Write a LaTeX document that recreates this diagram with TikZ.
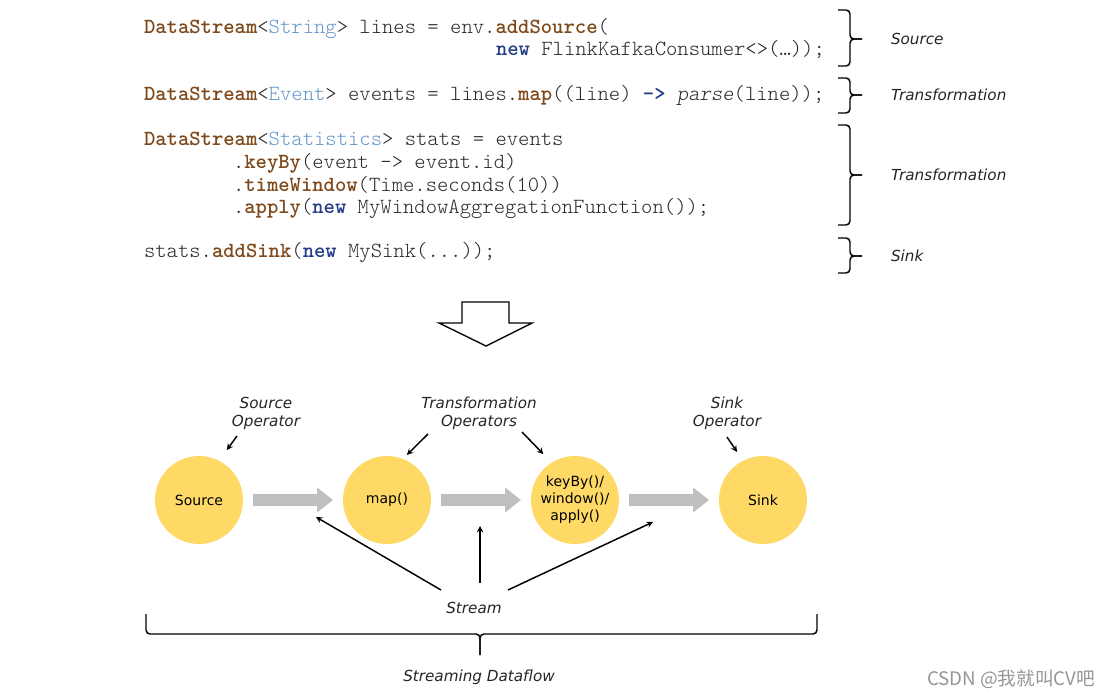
\documentclass[tikz,border=0pt]{standalone}
\usepackage{fontspec}
\usepackage{tikz}
\usetikzlibrary{positioning}
\usetikzlibrary{arrows}
\usetikzlibrary{arrows.meta}
\setmainfont{DejaVu Sans}
\newfontfamily\codefont{Latin Modern Mono Light}
\newfontfamily\cjkfont{Noto Sans CJK SC}
\definecolor{opyellow}{RGB}{255,217,102}
\definecolor{flowgray}{RGB}{191,191,191}
\definecolor{kwbrown}{RGB}{127,72,25}
\definecolor{typeblue}{RGB}{100,150,200}
\definecolor{newblue}{RGB}{35,60,135}
\definecolor{codegray}{RGB}{40,40,40}
\definecolor{markgray}{RGB}{150,150,150}
\newcommand{\kw}[1]{\textcolor{kwbrown}{\textbf{#1}}}
\newcommand{\ty}[1]{\textcolor{typeblue}{#1}}
\newcommand{\nw}[1]{\textcolor{newblue}{\textbf{#1}}}

\begin{document}
\begin{tikzpicture}[
              x = 0.75pt, % one pixel of the reference
              y = -0.75pt,
              > = stealth, % arrow head style
  node distance = 141pt, % distance between operators
              semithick % line style
        ]

        \tikzstyle{every node}=[inner sep=0pt, outer sep=0pt]
        \tikzstyle{code}=[anchor=base west, text=codegray, font=\codefont\fontsize{16.2pt}{19pt}\selectfont]
        \tikzstyle{note}=[text=black!85, align=center, font=\itshape\fontsize{11.4pt}{13.5pt}\selectfont]
        \tikzstyle{operator}=[circle, fill=opyellow, minimum size=66pt, align=center, font=\fontsize{10.5pt}{12.75pt}\selectfont]
        \tikzstyle{flow}=[color=flowgray, line width=9pt, -{Triangle[length=12pt,width=18pt]}, shorten <=7.5pt, shorten >=7.5pt]
        \tikzstyle{pointer}=[->, line width=1.1pt]
        \tikzstyle{curly}=[line width=1.1pt, rounded corners=3pt]

        \useasboundingbox[fill=white] (0,0) rectangle (1113,697);

	% program text
        \node[code] (srcA) at (144,33) {\kw{DataStream}<\ty{String}> lines = env.\kw{addSource}(};
        \node[code] (srcB) at (496,55) {\nw{new} FlinkKafkaConsumer<>(…));};
        \node[code] (mapA) at (144,100) {\kw{DataStream}<\ty{Event}> events = lines.\kw{map}((line) \nw{->} \textit{parse}(line));};
        \node[code] (winA) at (144,145) {\kw{DataStream}<\ty{Statistics}> stats = events};
        \node[code] (winB) at (233,168) {.\kw{keyBy}(event -> event.id)};
        \node[code] (winC) at (233,191) {.\kw{timeWindow}(Time.seconds(10))};
        \node[code] (winD) at (233,213) {.\kw{apply}(\nw{new} MyWindowAggregationFunction());};
        \node[code] (sinkA) at (144,257) {stats.\kw{addSink}(\nw{new} MySink(...));};

        % braces and stage names
        \foreach \top/\mid/\bot in {10/39/66, 78/95/113, 125/175/225, 238/256/273}{
          \draw[curly] (838,\top) -| (850,\mid) -- (862,\mid);
          \draw[curly] (838,\bot) -| (850,\mid) -- (862,\mid);
        }
        \node[note, anchor=west] (srcnote) at (891,39) {Source};
        \node[note, anchor=west] (mapnote) at (891,95) {Transformation};
        \node[note, anchor=west] (winnote) at (891,175) {Transformation};
        \node[note, anchor=west] (sinknote) at (891,256) {Sink};

        % translation arrow
        \draw[line width=1pt] (462,302) -- (509,302) -- (509,323) -- (532,323) -- (486,346) -- (439,323) -- (462,323) -- cycle;

	% dataflow level
        \node[operator] (src) at (199,500) {Source};
        \node[operator] (map) [right of=src] {map()};
        \node[operator] (win) [right of=map] {keyBy()/\\window()/\\apply()};
        \node[operator] (sink) [right of=win] {Sink};

        \draw[flow] (src) -- (map);
        \draw[flow] (map) -- (win);
        \draw[flow] (win) -- (sink);

        % operator names
        \node[note] (srcop) at (266,413) {Source\\Operator};
        \node[note] (trop) at (479,413) {Transformation\\Operators};
        \node[note] (sinkop) at (727,413) {Sink\\Operator};

        \coordinate (srcopT) at (237,436);
        \coordinate (tropL) at (428,434);
        \coordinate (tropR) at (522,432);
        \coordinate (sinkopT) at (727,437);
        \draw[pointer, shorten >=10pt] (srcopT) -- (src.63);
        \draw[pointer, shorten >=4.3pt] (tropL) -- (map.69);
        \draw[pointer, shorten >=9pt] (tropR) -- (win.122);
        \draw[pointer, shorten >=8pt] (sinkopT) -- (sink.117);

        % streams
        \node[note] (stream) at (474,608) {Stream};
        \coordinate (streamL) at (441,590);
        \coordinate (streamM) at (480,583);
        \coordinate (streamR) at (508,590);
        \coordinate (gapA) at (316,517);
        \coordinate (gapB) at (480,526);
        \coordinate (gapC) at (653,522);
        \draw[pointer] (streamL) -- (gapA);
        \draw[pointer] (streamM) -- (gapB);
        \draw[pointer] (streamR) -- (gapC);

        % whole dataflow
        \draw[curly] (146,614) |- (480,634) -- (480,655);
        \draw[curly] (817,614) |- (480,634) -- (480,655);
        \node[note] (dataflow) at (479,677) {Streaming Dataflow};

        \node[text=markgray, font=\cjkfont\fontsize{14pt}{16pt}\selectfont] (mark) at (1011,679) {CSDN @我就叫CV吧};

  \end{tikzpicture}
\end{document}
